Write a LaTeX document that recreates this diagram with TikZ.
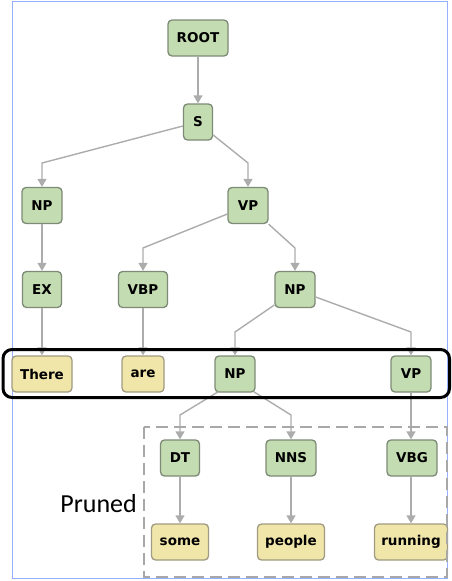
\documentclass[tikz,border=0pt]{standalone}
\usepackage{fontspec}
\setmainfont{DejaVu Sans}
\newfontfamily\prunedfont{Carlito}
\usetikzlibrary{arrows.meta}
\definecolor{gfill}{RGB}{196,220,178}
\definecolor{gborder}{RGB}{125,138,118}
\definecolor{yfill}{RGB}{240,230,170}
\definecolor{yborder}{RGB}{160,155,130}
\definecolor{edgec}{RGB}{172,172,172}
\definecolor{framec}{RGB}{150,175,255}
\definecolor{dashc}{RGB}{168,168,168}
\tikzset{
  tnode/.style={rounded corners=4pt, line width=1.3pt, minimum height=36pt, inner sep=0pt,
    font=\fontsize{13.5}{15}\selectfont\bfseries},
  gnode/.style={tnode, draw=gborder, fill=gfill},
  ynode/.style={tnode, draw=yborder, fill=yfill},
  conn/.style={draw=edgec, line width=1.4pt, -{Triangle[width=9pt,length=8pt]}},
}
\begin{document}
\begin{tikzpicture}[x=1pt,y=-1pt]
\useasboundingbox (0,0) rectangle (451,581);
\draw[framec, line width=1pt] (12,1) rectangle (447,578);

\node[gnode, minimum width=60pt] (root) at (198,38) {ROOT};
\node[gnode, minimum width=29pt] (s) at (198,122) {S};
\node[gnode, minimum width=40pt] (np1) at (42,205.5) {NP};
\node[gnode, minimum width=40pt] (vp1) at (248,205.5) {VP};
\node[gnode, minimum width=39pt] (ex) at (42,289.5) {EX};
\node[gnode, minimum width=49pt] (vbp) at (143,289.5) {VBP};
\node[gnode, minimum width=40pt] (np2) at (295,289.5) {NP};
\node[ynode, minimum width=60pt] (there) at (42,374) {There};
\node[ynode, minimum width=42pt] (are) at (143,374) {are};
\node[gnode, minimum width=40pt] (np3) at (235,374) {NP};
\node[gnode, minimum width=40pt] (vp2) at (411,374) {VP};
\node[gnode, minimum width=39pt] (dt) at (180,458) {DT};
\node[gnode, minimum width=50pt] (nns) at (291,458) {NNS};
\node[gnode, minimum width=50pt] (vbg) at (412,458) {VBG};
\node[ynode, minimum width=57pt] (some) at (180,542) {some};
\node[ynode, minimum width=67pt] (people) at (291,542) {people};
\node[ynode, minimum width=73pt] (running) at (411,542) {running};

\draw[conn] (root) -- (s);
\draw[conn] ([yshift=-4pt]s.west) -- (np1.north |- 0,163) -- (np1.north);
\draw[conn] ([yshift=-13pt]s.east) -- (vp1.north |- 0,163) -- (vp1.north);
\draw[conn] ([yshift=-8.5pt]vp1.west) -- (vbp.north |- 0,248) -- (vbp.north);
\draw[conn] (vp1.south east) -- (np2.north |- 0,248) -- (np2.north);
\draw[conn] (np1) -- (ex);
\draw[conn] ([yshift=-15.5pt]np2.west) -- (np3.north |- 0,332) -- (np3.north);
\draw[conn] ([yshift=-7.5pt]np2.east) -- (vp2.north |- 0,332) -- (vp2.north);
\draw[conn] (ex) -- (there);
\draw[conn] (vbp) -- (are);
\draw[conn] ([xshift=4pt,yshift=1pt]np3.south west) -- (dt.north |- 0,415) -- (dt.north);
\draw[conn] ([xshift=-2pt,yshift=1pt]np3.south east) -- (nns.north |- 0,415) -- (nns.north);
\draw[conn] (vp2.south) -- (vp2.south |- vbg.north);
\draw[conn] (dt) -- (some);
\draw[conn] (nns) -- (people);
\draw[conn] (vbg.south -| running.north) -- (running.north);

\draw[black, line width=3pt, rounded corners=9pt] (3,349.5) rectangle (449.5,397.5);
\draw[dashc, line width=2.5pt, dash pattern=on 12pt off 6pt] (144,427) rectangle (447,577);
\node[font=\prunedfont\fontsize{26}{30}\selectfont, anchor=base east, inner sep=0pt] (pruned) at (137,512) {Pruned};
\end{tikzpicture}
\end{document}
